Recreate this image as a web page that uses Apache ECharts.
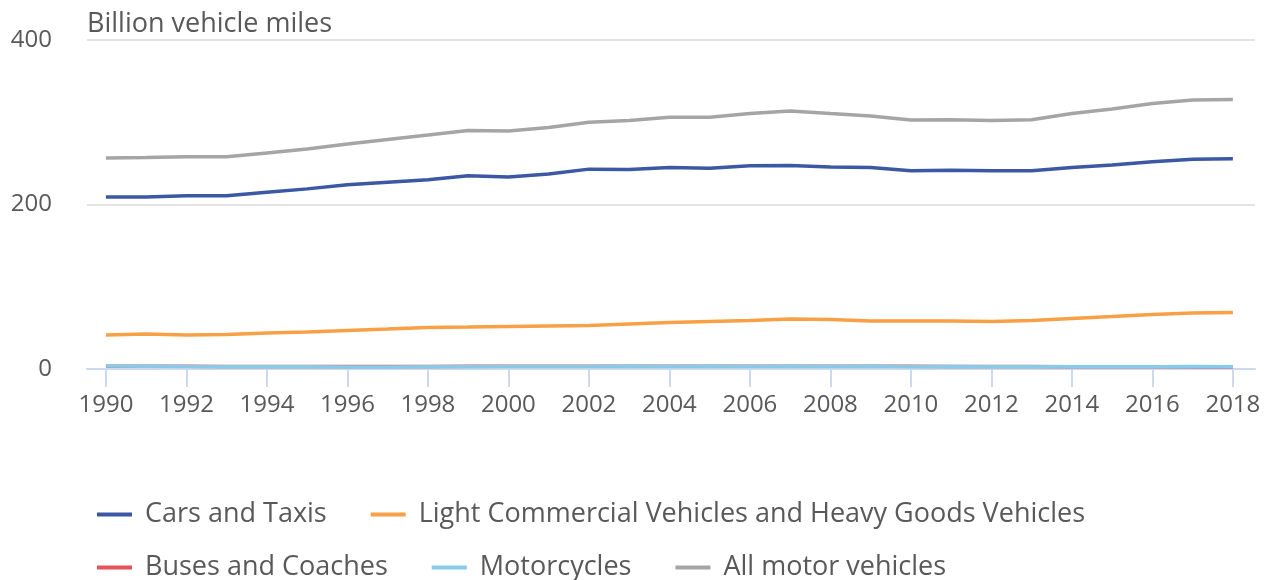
<!DOCTYPE html>
<html>
<head>
<meta charset="utf-8">
<script src="https://cdn.jsdelivr.net/npm/echarts@6/dist/echarts.min.js"></script>
<style>
  html, body { margin: 0; padding: 0; background: #fff; }
  #chart { width: 1271px; height: 580px; }
</style>
</head>
<body>
<div id="chart"></div>
<script>
// years and values (billion vehicle miles)
const years = [1990, 1991, 1992, 1993, 1994, 1995, 1996, 1997, 1998, 1999,
  2000, 2001, 2002, 2003, 2004, 2005, 2006, 2007, 2008, 2009,
  2010, 2011, 2012, 2013, 2014, 2015, 2016, 2017, 2018]
const yearTicks = [1990, 1992, 1994, 1996, 1998, 2000, 2002, 2004, 2006, 2008,
  2010, 2012, 2014, 2016, 2018]

const cars = [209, 209, 210.5, 210.5, 215, 219, 224, 227, 230, 235,
  233.5, 237, 243, 242.5, 245, 244, 247, 247.5, 245.5, 245,
  241, 241.5, 241, 241, 245, 248, 252, 255, 255.5]
const lgv = [41.3, 42.5, 41.3, 42, 43.8, 45, 46.8, 48.6, 50.5, 51,
  51.7, 52.3, 52.9, 54.7, 56.5, 57.8, 59, 60.8, 60.2, 58.4,
  58.4, 58.4, 57.8, 59, 61.4, 63.8, 66.3, 68, 68.7]
const buses = [3.3, 3.3, 3.2, 3.1, 3.1, 3.1, 3.1, 3.1, 3.1, 3.2,
  3.2, 3.2, 3.2, 3.3, 3.3, 3.2, 3.3, 3.3, 3.3, 3.3,
  3.2, 3.1, 3.0, 2.9, 2.8, 2.7, 2.6, 2.5, 2.4]
const motorcycles = [3.5, 3.3, 2.9, 2.8, 2.7, 2.7, 2.5, 2.5, 2.6, 2.7,
  2.9, 3.0, 3.1, 3.4, 3.1, 3.2, 3.1, 3.2, 3.1, 3.2,
  2.8, 2.9, 2.8, 2.7, 2.8, 2.8, 2.8, 2.9, 2.8]
const allVehicles = [256.5, 257, 258, 258, 262.6, 267.5, 273.5, 279, 284.5, 290,
  289.5, 293.6, 300, 302, 306, 306, 310.6, 313.7, 310.6, 307.6,
  302.7, 303, 302, 303, 310.6, 316, 322.8, 327, 327.6]

const names = ["Cars and Taxis", "Light Commercial Vehicles and Heavy Goods Vehicles",
  "Buses and Coaches", "Motorcycles", "All motor vehicles"]
const colors = ["#3a58a3", "#f7a046", "#e8525c", "#86cbe9", "#a5a5a5"]
const values = [cars, lgv, buses, motorcycles, allVehicles]

const font = "Open Sans"
const textColor = "#595959"

function pairs(arr) {
  return years.map((y, i) => [y, arr[i]])
}

let myChart = echarts.init(document.getElementById("chart"))

const legendBase = {
  left: 97,
  padding: 0,
  orient: "horizontal",
  icon: "rect",
  itemWidth: 35,
  itemHeight: 4,
  itemGap: 44,
  textStyle: { fontFamily: font, fontSize: 27, color: textColor, padding: [0, 0, 0, 8] },
}

myChart.setOption({
  animation: false,
  color: colors,
  grid: {
    left: 87,
    right: 16,
    top: 40,
    bottom: 211,
  },
  legend: [
    Object.assign({}, legendBase, { top: 501, data: names.slice(0, 2) }),
    Object.assign({}, legendBase, { top: 554, data: names.slice(2) }),
  ],
  xAxis: {
    type: "value",
    min: 1989.53,
    max: 2018.55,
    axisLine: {
      show: true,
      lineStyle: { color: "#cdd9ee", width: 2 },
    },
    axisTick: {
      show: true,
      length: 18,
      customValues: yearTicks,
      lineStyle: { color: "#cdd9ee", width: 2 },
    },
    axisLabel: {
      customValues: yearTicks,
      formatter: (v) => String(v),
      margin: 24,
      fontFamily: font,
      fontSize: 24,
      color: textColor,
    },
    splitLine: { show: false },
  },
  yAxis: {
    type: "value",
    min: 0,
    max: 400,
    interval: 200,
    name: "Billion vehicle miles",
    nameLocation: "end",
    nameGap: 2,
    nameTextStyle: {
      align: "left",
      fontFamily: font,
      fontSize: 27,
      color: textColor,
    },
    axisLine: { show: false },
    axisTick: { show: false },
    axisLabel: {
      margin: 35,
      padding: [6, 0, 0, 0],
      fontFamily: font,
      fontSize: 24,
      color: textColor,
    },
    splitLine: {
      lineStyle: { color: "#e3e3e3", width: 2 },
    },
  },
  series: names.map((name, i) => ({
    name: name,
    type: "line",
    data: pairs(values[i]),
    showSymbol: false,
    lineStyle: { width: 3.5 },
  })),
})
</script>
</body>
</html>
